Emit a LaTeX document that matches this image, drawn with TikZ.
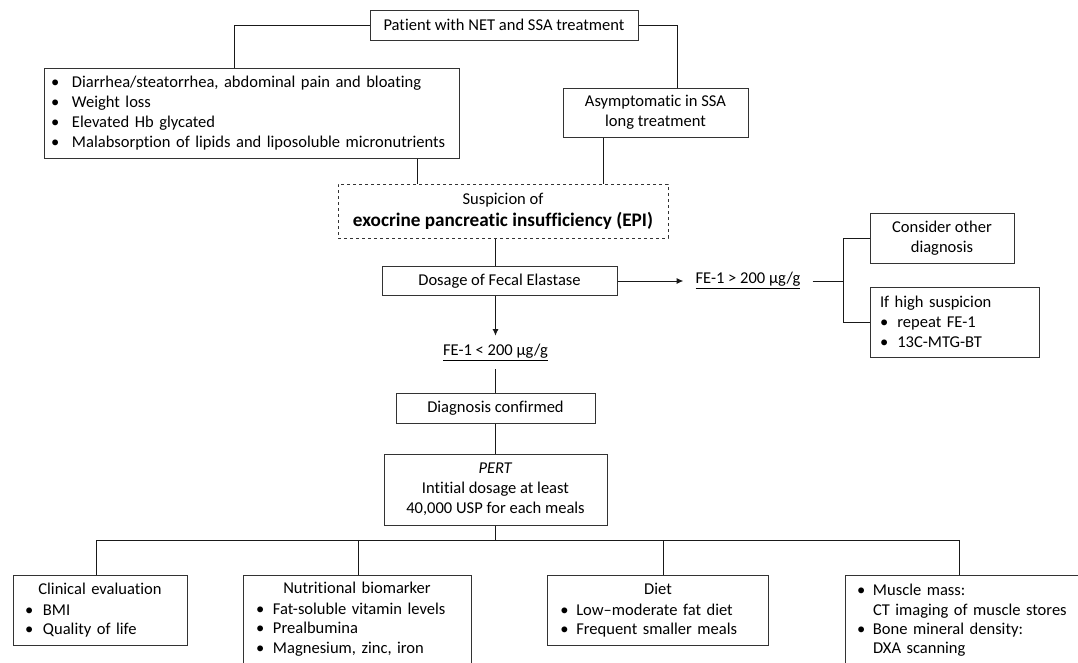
\documentclass[tikz,border=0pt]{standalone}
\usepackage{fontspec}
\setmainfont{Carlito}[Ligatures=NoCommon]
\usepackage{tikz}
\usetikzlibrary{arrows.meta, calc}
\newcommand{\upx}{0.75pt}
\newcommand{\bul}[1][13pt]{\makebox[#1][l]{\textbullet}}

\begin{document}
\begin{tikzpicture}[x=0.75pt, y=-0.75pt,
  every node/.style={font=\fontsize{12.4}{15}\selectfont},
  box/.style={draw=black!80, line width=0.75pt, inner sep=0pt, align=center},
  lbox/.style={draw=black!80, line width=0.75pt, inner ysep=0pt, align=left},
  small/.style={font=\fontsize{12.4}{14.5}\selectfont},
  link/.style={line width=0.75pt, black!90},
  arr/.style={link, -{Latex[length=5pt,width=4.5pt]}}]
  \useasboundingbox (0,0) rectangle (1078,662);
  \clip (0,0) rectangle (1078,662);

  % Top of the chart
  \node[box, minimum width=268*\upx, minimum height=30*\upx] (patient) at (504,25) {Patient with NET and SSA treatment};
  \node[lbox, text width=300.75pt, inner xsep=5.25pt, minimum height=90*\upx] (symptoms) at (251.5,113)
    {\bul[15.75pt]Diarrhea/steatorrhea, abdominal pain and bloating\\
     \bul[15.75pt]Weight loss\\
     \bul[15.75pt]Elevated Hb glycated\\
     \bul[15.75pt]Malabsorption of lipids and liposoluble micronutrients};
  \node[box, minimum width=185*\upx, minimum height=49*\upx] (asympt) at (655.5,112.5) {Asymptomatic in SSA\\long treatment};
  \node[box, dash pattern=on 2.5pt off 2pt, minimum width=330*\upx, minimum height=54*\upx] (epi) at (503,211)
    {Suspicion of\\[1.5pt]{\fontsize{14.4}{17}\selectfont\bfseries exocrine pancreatic insufficiency (EPI)}};

  % Fecal elastase
  \node[box, minimum width=235*\upx, minimum height=29*\upx] (dosage) at (499.5,281) {Dosage of Fecal Elastase};
  \node[inner xsep=9pt] (fehigh) at (748,281) {\underline{FE-1 > 200 µg/g}};
  \node[minimum height=33*\upx, inner ysep=0pt] (felow) at (495.5,352.5) {\underline{FE-1 < 200 µg/g}};
  \coordinate (split) at (843,281);
  \node[box, minimum width=144*\upx, minimum height=50*\upx] (consider) at (942,238) {Consider other\\diagnosis};
  \node[lbox, text width=111.75pt, inner xsep=7.5pt, minimum height=70*\upx] (ifhigh) at (954.5,322)
    {If high suspicion\\
     \bul repeat FE-1\\
     \bul 13C-MTG-BT};

  % Treatment
  \node[box, minimum width=199*\upx, minimum height=30*\upx] (diag) at (495.5,408) {Diagnosis confirmed};
  \node[box, minimum width=223*\upx, minimum height=71*\upx] (pert) at (495.5,489.5)
    {\textit{PERT}\\Intitial dosage at least\\40,000 USP for each meals};

  % Follow-up boxes
  \node[lbox, small, text width=112.5pt, inner xsep=9pt, minimum height=70*\upx] (clin) at (100,610)
    {\makebox[\linewidth]{Clinical evaluation}\\[1pt]
     \bul[13.5pt]BMI\\
     \bul[13.5pt]Quality of life};
  \node[lbox, small, text width=151.5pt, inner xsep=9.75pt, minimum height=88*\upx] (nutr) at (357,619)
    {\makebox[\linewidth]{Nutritional biomarker}\\[1pt]
     \bul[12.75pt]Fat-soluble vitamin levels\\
     \bul[12.75pt]Prealbumina\\
     \bul[12.75pt]Magnesium, zinc, iron};
  \node[lbox, small, text width=146.6pt, inner xsep=9.75pt, minimum height=70*\upx] (diet) at (658,610)
    {\makebox[\linewidth]{Diet}\\[1pt]
     \bul[12pt]Low–moderate fat diet\\
     \bul[12pt]Frequent smaller meals};
  \node[lbox, small, text width=177pt, inner xsep=9pt, minimum height=91*\upx] (musc) at (975,620.5)
    {\bul[12pt]Muscle mass:\\
     \hspace*{12pt}CT imaging of muscle stores\\
     \bul[12pt]Bone mineral density:\\
     \hspace*{12pt}DXA scanning};

  % Connectors
  \draw[link] (patient.west) -| ($(symptoms.north west)!0.46!(symptoms.north east)$);
  \draw[link] (patient.east) -| ($(asympt.north west)!0.62!(asympt.north east)$);
  \coordinate (s1) at ($(symptoms.south west)!0.9!(symptoms.south east)$);
  \coordinate (a1) at ($(asympt.south west)!0.22!(asympt.south east)$);
  \draw[link] (s1) -- (s1 |- epi.north);
  \draw[link] (a1) -- (a1 |- epi.north);
  \draw[link] (epi.south -| felow) -- (dosage.north -| felow);
  \draw[arr] (dosage.east) -- (fehigh.west);
  \draw[arr] (dosage.south -| felow) -- (felow.north);
  \draw[link] (fehigh.east) -- (split);
  \draw[link] (consider.west) -| (split) |- (ifhigh.west);
  \draw[link] (felow.south) -- (diag.north);
  \draw[link] (diag.south) -- (pert.north);

  % Bus to the four boxes
  \coordinate (drop1) at (96,540);
  \coordinate (drop2) at (358,540);
  \coordinate (drop3) at (663,540);
  \coordinate (drop4) at (959,540);
  \draw[link] (pert.south) -- (pert.south |- drop1);
  \draw[link] (drop1) -- (drop4);
  \draw[link] (drop1) -- (drop1 |- clin.north);
  \draw[link] (drop2) -- (drop2 |- nutr.north);
  \draw[link] (drop3) -- (drop3 |- diet.north);
  \draw[link] (drop4) -- (drop4 |- musc.north);
\end{tikzpicture}
\end{document}
